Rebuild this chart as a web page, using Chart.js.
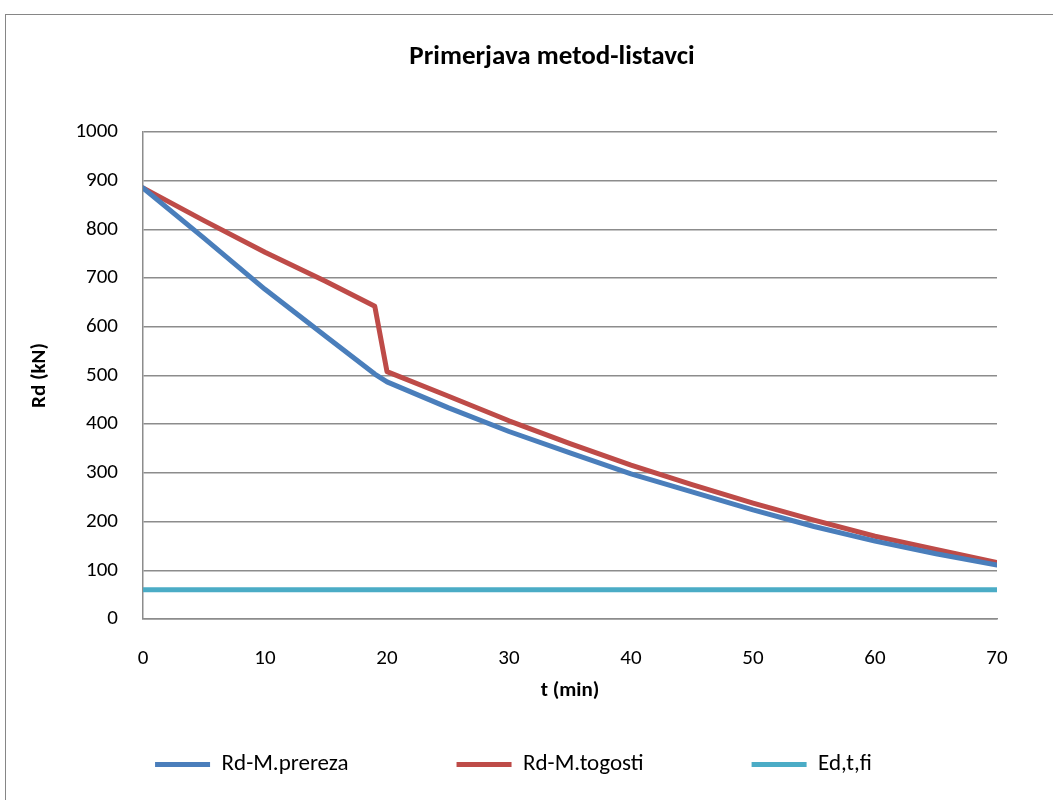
<!DOCTYPE html>
<html>
<head>
<meta charset="utf-8">
<script src="https://cdn.jsdelivr.net/npm/chart.js@4.4.1/dist/chart.umd.min.js"></script>
<style>
  html, body { margin: 0; padding: 0; background: #fff; }
  #wrap { position: relative; width: 1053px; height: 800px; }
</style>
</head>
<body>
<div id="wrap"><canvas id="primerjavaChart" width="1053" height="800"></canvas></div>
<script>
// cas (min)
const casMin = [0, 5, 10, 15, 19, 20, 25, 30, 35, 40, 45, 50, 55, 60, 65, 70];
// Rd po metodi reduciranega prereza (kN)
const rdPrereza = [885, 782, 677, 580, 503, 487, 434, 385, 341, 298, 261, 224, 190, 160, 134, 111];
// Rd po metodi reducirane togosti (kN)
const rdTogosti = [885, 818, 753, 693, 642, 508, 458, 407, 360, 316, 276, 238, 203, 170, 143, 116];
// projektna obremenitev v pozaru (kN)
const edTFi = [60, 60, 60, 60, 60, 60, 60, 60, 60, 60, 60, 60, 60, 60, 60, 60];

const xTicks = [0, 10, 20, 30, 40, 50, 60, 70];
const yTicks = [0, 100, 200, 300, 400, 500, 600, 700, 800, 900, 1000];

const naslov = 'Primerjava metod-listavci';

const fontFamily = "Carlito, Calibri, Lato, 'Liberation Sans', sans-serif";
const gridColor = '#8c8c8c';

function toPoints(values) {
    return casMin.map(function (t, i) { return { x: t, y: values[i] }; });
}

// okvir okoli grafa in naslov (sredina okvirja)
const frame = {
    id: 'frame',
    beforeDraw: function (chart) {
        const ctx = chart.ctx;
        ctx.save();
        ctx.strokeStyle = '#868686';
        ctx.lineWidth = 1;
        ctx.strokeRect(5.5, 14.5, 1200, 1000);
        ctx.fillStyle = '#000';
        ctx.font = 'bold 27px ' + fontFamily;
        ctx.textAlign = 'center';
        ctx.textBaseline = 'middle';
        ctx.fillText(naslov, 552, 57);
        ctx.restore();
    },
    // os x naj sega pod legendo, da napisi niso odrezani
    afterLayout: function (chart) {
        const x = chart.scales.x;
        x.bottom = 712;
        x.height = x.bottom - x.top;
    }
};

const ctx = document.getElementById('primerjavaChart').getContext('2d');
const primerjavaChart = new Chart(ctx, {
    type: 'line',
    data: {
        datasets: [
            { label: 'Rd-M.prereza', data: toPoints(rdPrereza), borderColor: '#4A7EBB', backgroundColor: '#4A7EBB' },
            { label: 'Rd-M.togosti', data: toPoints(rdTogosti), borderColor: '#BE4B48', backgroundColor: '#BE4B48' },
            { label: 'Ed,t,fi', data: toPoints(edTFi), borderColor: '#4BACC6', backgroundColor: '#4BACC6' }
        ]
    },
    options: {
        responsive: false,
        animation: false,
        elements: {
            line: { borderWidth: 5, tension: 0, borderCapStyle: 'round', borderJoinStyle: 'round' },
            point: { radius: 0, hoverRadius: 0 }
        },
        layout: { padding: { left: 30, right: 56, top: 132, bottom: 14 } },
        plugins: {
            title: { display: false },
            legend: {
                position: 'bottom',
                labels: {
                    color: '#000',
                    font: { family: fontFamily, size: 23 },
                    boxWidth: 55,
                    boxHeight: 5,
                    padding: 108,
                    generateLabels: function (chart) {
                        const items = Chart.defaults.plugins.legend.labels.generateLabels(chart);
                        items.forEach(function (it) { it.lineWidth = 0; });
                        return items;
                    }
                }
            },
            tooltip: { enabled: false }
        },
        scales: {
            x: {
                type: 'linear',
                min: 0,
                max: 70,
                afterBuildTicks: function (scale) {
                    scale.ticks = xTicks.map(function (v) { return { value: v }; });
                },
                afterFit: function (scale) {
                    const legendH = scale.chart.legend ? scale.chart.legend.height : 0;
                    scale.height = 800 - 619 - legendH - 14;
                },
                grid: { display: false },
                border: { display: true, color: gridColor, width: 1.5 },
                ticks: {
                    color: '#000',
                    font: { family: fontFamily, size: 21 },
                    padding: 19,
                    maxRotation: 0,
                    callback: function (v) { return String(v); }
                },
                title: {
                    display: true,
                    text: 't (min)',
                    color: '#000',
                    font: { family: fontFamily, size: 21, weight: 'bold' },
                    padding: { top: 0, bottom: 9 }
                }
            },
            y: {
                min: 0,
                max: 1000,
                afterBuildTicks: function (scale) {
                    scale.ticks = yTicks.map(function (v) { return { value: v }; });
                },
                afterFit: function (scale) {
                    scale.width = 143 - 30;
                },
                grid: { color: gridColor, lineWidth: 1.5, drawTicks: false },
                border: { display: true, color: gridColor, width: 1.5 },
                ticks: {
                    color: '#000',
                    font: { family: fontFamily, size: 21 },
                    padding: 25,
                    callback: function (v) { return String(v); }
                },
                title: {
                    display: true,
                    text: 'Rd (kN)',
                    color: '#000',
                    font: { family: fontFamily, size: 21, weight: 'bold' },
                    padding: { top: -3, bottom: 0 }
                }
            }
        }
    },
    plugins: [frame]
});
</script>
</body>
</html>
